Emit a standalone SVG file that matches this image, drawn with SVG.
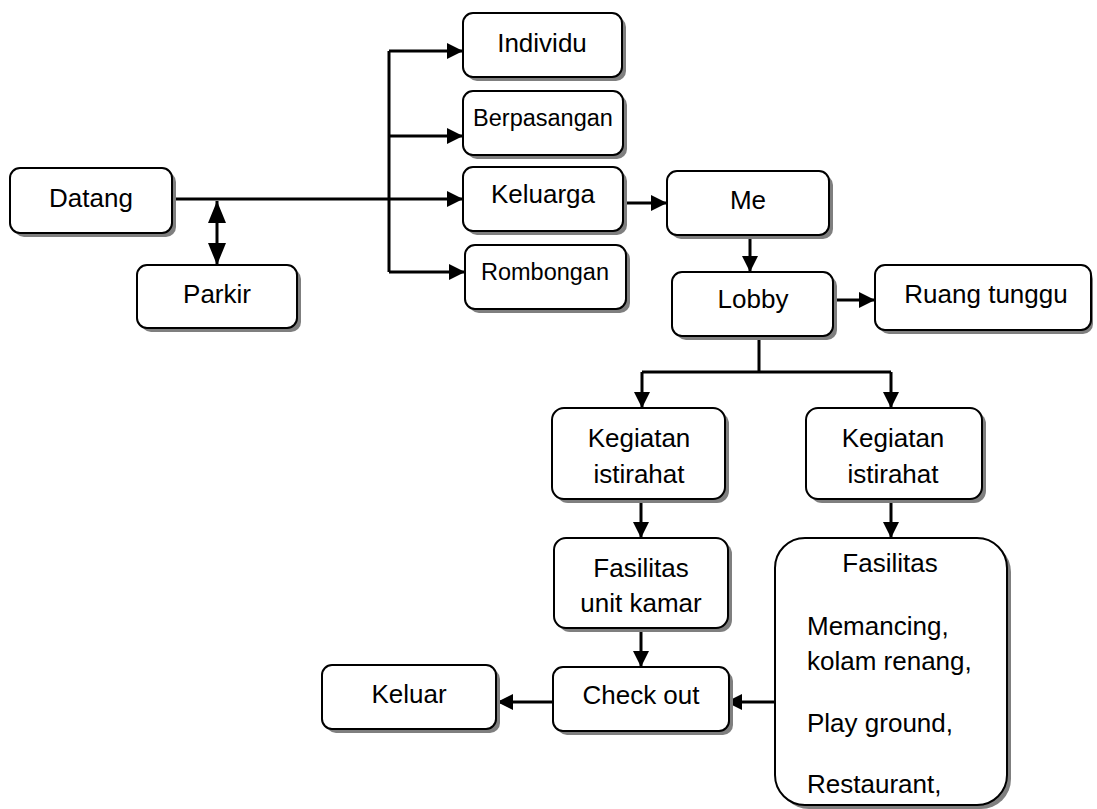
<svg xmlns="http://www.w3.org/2000/svg" width="1097" height="809" viewBox="0 0 1097 809">
  <style>
    .shadow { fill: #7f7f7f; }
    .box { fill: #ffffff; stroke: #000000; stroke-width: 2; }
    .lbl { font-family: "Liberation Sans", Arial, sans-serif; font-size: 26px; fill: #000000; text-anchor: middle; }
    .sm { font-size: 23.5px; }
    .left { text-anchor: start; }
    .wire { fill: none; stroke: #000000; stroke-width: 3; }
    .arrow { marker-end: url(#head); }
  </style>
  <defs>
    <marker id="head" markerUnits="userSpaceOnUse" markerWidth="16" markerHeight="16" refX="16" refY="8" orient="auto">
      <path d="M0,0 L16,8 L0,16 Z" fill="#000000"/>
    </marker>
    <marker id="headBig" markerUnits="userSpaceOnUse" markerWidth="22" markerHeight="18" refX="22" refY="9" orient="auto-start-reverse">
      <path d="M0,0 L22,9 L0,18 Z" fill="#000000"/>
    </marker>
  </defs>
  <rect width="1097" height="809" fill="#ffffff"/>

  <!-- connectors -->
  <g id="connectors">
    <path class="wire" d="M389,51 V272"/>
    <path class="wire arrow" d="M172,199 H463"/>
    <path class="wire arrow" d="M389,51 H463"/>
    <path class="wire arrow" d="M389,136 H463"/>
    <path class="wire arrow" d="M389,272 H465"/>
    <path class="wire" d="M217,201 V265" marker-start="url(#headBig)" marker-end="url(#headBig)"/>
    <path class="wire arrow" d="M623,203 H667"/>
    <path class="wire arrow" d="M750,235 V272"/>
    <path class="wire arrow" d="M833,300 H875"/>
    <path class="wire" d="M759,336 V372"/>
    <path class="wire" d="M642,372 H891"/>
    <path class="wire arrow" d="M642,372 V408"/>
    <path class="wire arrow" d="M891,372 V408"/>
    <path class="wire arrow" d="M641,499 V538"/>
    <path class="wire arrow" d="M891,499 V538"/>
    <path class="wire arrow" d="M641,628 V667"/>
    <path class="wire arrow" d="M775,702 H726"/>
    <path class="wire arrow" d="M553,702 H497"/>
  </g>

  <!-- nodes -->
  <g id="datang">
    <rect class="shadow" x="14" y="172" width="162" height="65" rx="10"/>
    <rect class="box" x="10" y="168" width="162" height="65" rx="10"/>
    <text class="lbl" x="91" y="207">Datang</text>
  </g>
  <g id="parkir">
    <rect class="shadow" x="141" y="269" width="160" height="63" rx="10"/>
    <rect class="box" x="137" y="265" width="160" height="63" rx="10"/>
    <text class="lbl" x="217" y="303">Parkir</text>
  </g>
  <g id="individu">
    <rect class="shadow" x="467" y="17" width="159" height="64" rx="10"/>
    <rect class="box" x="463" y="13" width="159" height="64" rx="10"/>
    <text class="lbl" x="542" y="52">Individu</text>
  </g>
  <g id="berpasangan">
    <rect class="shadow" x="467" y="95" width="160" height="64" rx="10"/>
    <rect class="box" x="463" y="91" width="160" height="64" rx="10"/>
    <text class="lbl sm" x="543" y="126">Berpasangan</text>
  </g>
  <g id="keluarga">
    <rect class="shadow" x="467" y="171" width="160" height="64" rx="10"/>
    <rect class="box" x="463" y="167" width="160" height="64" rx="10"/>
    <text class="lbl" x="543" y="203">Keluarga</text>
  </g>
  <g id="rombongan">
    <rect class="shadow" x="469" y="249" width="161" height="64" rx="10"/>
    <rect class="box" x="465" y="245" width="161" height="64" rx="10"/>
    <text class="lbl sm" x="545" y="280">Rombongan</text>
  </g>
  <g id="me">
    <rect class="shadow" x="671" y="175" width="162" height="64" rx="10"/>
    <rect class="box" x="667" y="171" width="162" height="64" rx="10"/>
    <text class="lbl" x="748" y="209">Me</text>
  </g>
  <g id="lobby">
    <rect class="shadow" x="676" y="276" width="161" height="64" rx="10"/>
    <rect class="box" x="672" y="272" width="161" height="64" rx="10"/>
    <text class="lbl" x="753" y="308">Lobby</text>
  </g>
  <g id="ruang-tunggu">
    <rect class="shadow" x="879" y="269" width="214" height="65" rx="10"/>
    <rect class="box" x="875" y="265" width="216" height="65" rx="10"/>
    <text class="lbl" x="986" y="303">Ruang tunggu</text>
  </g>
  <g id="kegiatan-1">
    <rect class="shadow" x="556" y="412" width="173" height="91" rx="12"/>
    <rect class="box" x="552" y="408" width="173" height="91" rx="12"/>
    <text class="lbl" x="639" y="447">Kegiatan</text>
    <text class="lbl" x="639" y="483">istirahat</text>
  </g>
  <g id="kegiatan-2">
    <rect class="shadow" x="810" y="412" width="176" height="91" rx="12"/>
    <rect class="box" x="806" y="408" width="176" height="91" rx="12"/>
    <text class="lbl" x="893" y="447">Kegiatan</text>
    <text class="lbl" x="893" y="483">istirahat</text>
  </g>
  <g id="fasilitas-kamar">
    <rect class="shadow" x="558" y="542" width="174" height="90" rx="12"/>
    <rect class="box" x="554" y="538" width="174" height="90" rx="12"/>
    <text class="lbl" x="641" y="577">Fasilitas</text>
    <text class="lbl" x="641" y="612">unit kamar</text>
  </g>
  <g id="fasilitas-umum">
    <rect class="shadow" x="779" y="542" width="232" height="267" rx="30"/>
    <rect class="box" x="775" y="538" width="232" height="267" rx="30"/>
    <text class="lbl" x="890" y="572">Fasilitas</text>
    <text class="lbl left" x="807" y="635">Memancing,</text>
    <text class="lbl left" x="807" y="670">kolam renang,</text>
    <text class="lbl left" x="807" y="732">Play ground,</text>
    <text class="lbl left" x="807" y="793">Restaurant,</text>
  </g>
  <g id="check-out">
    <rect class="shadow" x="557" y="671" width="176" height="64" rx="10"/>
    <rect class="box" x="553" y="667" width="176" height="64" rx="10"/>
    <text class="lbl" x="641" y="704">Check out</text>
  </g>
  <g id="keluar">
    <rect class="shadow" x="326" y="669" width="174" height="64" rx="10"/>
    <rect class="box" x="322" y="665" width="174" height="64" rx="10"/>
    <text class="lbl" x="409" y="703">Keluar</text>
  </g>
</svg>
